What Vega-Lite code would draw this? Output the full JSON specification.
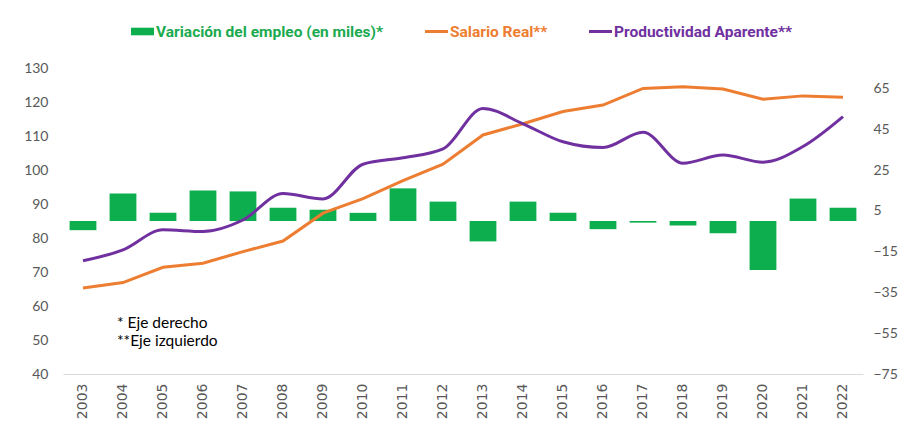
{
  "$schema": "https://vega.github.io/schema/vega-lite/v6.json",
  "autosize": {"type": "none"},
  "padding": {"left": 63, "top": 68, "right": 38, "bottom": 51},
  "width": 800,
  "height": 306,
  "background": "white",
  "config": {"view": {"stroke": null}, "axis": {"grid": false, "ticks": false, "domain": false}},
  "datasets": {
    "empleo": [
      {"anio": "2003", "empleo": -4.5},
      {"anio": "2004", "empleo": 13.5},
      {"anio": "2005", "empleo": 4},
      {"anio": "2006", "empleo": 15},
      {"anio": "2007", "empleo": 14.5},
      {"anio": "2008", "empleo": 6.5},
      {"anio": "2009", "empleo": 5.5},
      {"anio": "2010", "empleo": 4},
      {"anio": "2011", "empleo": 16},
      {"anio": "2012", "empleo": 9.5},
      {"anio": "2013", "empleo": -10},
      {"anio": "2014", "empleo": 9.5},
      {"anio": "2015", "empleo": 4},
      {"anio": "2016", "empleo": -4},
      {"anio": "2017", "empleo": -0.8},
      {"anio": "2018", "empleo": -2.2},
      {"anio": "2019", "empleo": -6},
      {"anio": "2020", "empleo": -24},
      {"anio": "2021", "empleo": 11},
      {"anio": "2022", "empleo": 6.5}
    ],
    "series": [
      {"anio": "2003", "salario": 65.3, "productividad": 73.3},
      {"anio": "2004", "salario": 66.9, "productividad": 76.5},
      {"anio": "2005", "salario": 71.4, "productividad": 82.4},
      {"anio": "2006", "salario": 72.6, "productividad": 81.9},
      {"anio": "2007", "salario": 76.0, "productividad": 85.3},
      {"anio": "2008", "salario": 79.1, "productividad": 93.1},
      {"anio": "2009", "salario": 87.3, "productividad": 91.5},
      {"anio": "2010", "salario": 91.6, "productividad": 101.7},
      {"anio": "2011", "salario": 96.9, "productividad": 103.6},
      {"anio": "2012", "salario": 101.7, "productividad": 106.2},
      {"anio": "2013", "salario": 110.3, "productividad": 118.1},
      {"anio": "2014", "salario": 113.6, "productividad": 113.6},
      {"anio": "2015", "salario": 117.2, "productividad": 108.3},
      {"anio": "2016", "salario": 119.1, "productividad": 106.6},
      {"anio": "2017", "salario": 124.0, "productividad": 111.1},
      {"anio": "2018", "salario": 124.5, "productividad": 102.0},
      {"anio": "2019", "salario": 123.8, "productividad": 104.4},
      {"anio": "2020", "salario": 120.8, "productividad": 102.3},
      {"anio": "2021", "salario": 121.8, "productividad": 106.9},
      {"anio": "2022", "salario": 121.4, "productividad": 115.7}
    ],
    "notas": [
      {"anio": "2004", "v": 55, "texto": "* Eje derecho"},
      {"anio": "2004", "v": 49.7, "texto": "**Eje izquierdo"}
    ]
  },
  "encoding": {
    "x": {
      "field": "anio",
      "type": "nominal",
      "scale": {"paddingInner": 0.33, "paddingOuter": 0.165},
      "axis": {
        "title": null,
        "labelAngle": -90,
        "labelFont": "DejaVu Sans",
        "labelFontSize": 14,
        "labelColor": "#595959",
        "labelPadding": 9,
        "domain": true,
        "domainColor": "#D9D9D9",
        "domainWidth": 1
      }
    }
  },
  "layer": [
    {
      "data": {"name": "empleo"},
      "mark": {"type": "bar", "color": "#0DAE4E"},
      "encoding": {
        "y": {
          "field": "empleo",
          "type": "quantitative",
          "scale": {"domain": [-75, 75], "nice": false, "zero": false},
          "axis": {
            "orient": "right",
            "title": null,
            "values": [-75, -55, -35, -15, 5, 25, 45, 65],
            "labelFont": "Lato",
            "labelFontSize": 14,
            "labelColor": "#595959",
            "labelPadding": 10
          }
        },
        "color": {
          "datum": "Variación del empleo (en miles)*",
          "scale": {
            "domain": ["Variación del empleo (en miles)*", "Salario Real**", "Productividad Aparente**"],
            "range": ["#0DAE4E", "#ED7D31", "#7030A0"]
          },
          "legend": {
            "title": null,
            "orient": "none",
            "direction": "horizontal",
            "legendX": 68,
            "legendY": -48,
            "columnPadding": 41,
            "symbolType": {"expr": "datum.value == 'Variación del empleo (en miles)*' ? 'M-1,-0.33H1V0.33H-1Z' : 'M-1,-0.13H1V0.13H-1Z'"},
            "symbolSize": 529,
            "symbolStrokeWidth": 0,
            "symbolOpacity": 1,
            "labelFont": "Roboto",
            "labelFontWeight": "bold",
            "labelFontSize": 15.5,
            "labelOffset": 2,
            "labelLimit": 400,
            "labelColor": {"expr": "datum.value == 'Variación del empleo (en miles)*' ? '#1BAA4F' : datum.value == 'Salario Real**' ? '#ED7D31' : '#7030A0'"}
          }
        }
      }
    },
    {
      "encoding": {
        "y": {
          "type": "quantitative",
          "scale": {"domain": [40, 130], "nice": false, "zero": false},
          "axis": {
            "orient": "left",
            "title": null,
            "values": [40, 50, 60, 70, 80, 90, 100, 110, 120, 130],
            "labelFont": "Lato",
            "labelFontSize": 14,
            "labelColor": "#595959",
            "labelPadding": 15
          }
        }
      },
      "layer": [
        {
          "data": {"name": "series"},
          "mark": {"type": "line", "strokeWidth": 3, "interpolate": "linear"},
          "encoding": {
            "y": {"field": "salario", "type": "quantitative"},
            "color": {"datum": "Salario Real**"}
          }
        },
        {
          "data": {"name": "series"},
          "mark": {"type": "line", "strokeWidth": 3, "interpolate": "monotone"},
          "encoding": {
            "y": {"field": "productividad", "type": "quantitative"},
            "color": {"datum": "Productividad Aparente**"}
          }
        },
        {
          "data": {"name": "notas"},
          "mark": {"type": "text", "align": "left", "baseline": "middle", "dx": -6, "font": "Lato", "fontSize": 15.5, "color": "#000000"},
          "encoding": {
            "y": {"field": "v", "type": "quantitative"},
            "text": {"field": "texto"}
          }
        }
      ]
    }
  ],
  "resolve": {"scale": {"y": "independent"}}
}
